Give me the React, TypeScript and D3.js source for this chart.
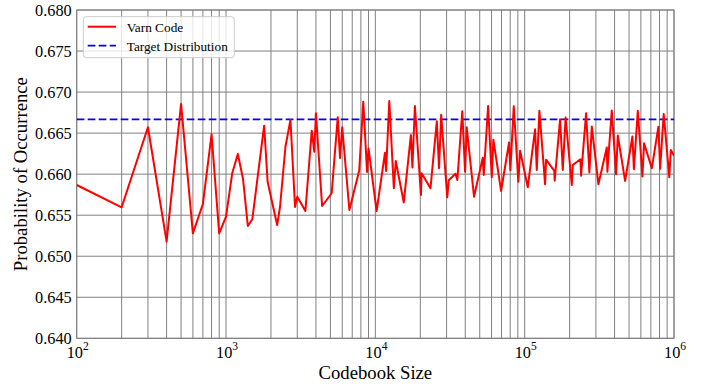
import React from "react";
import * as d3 from "d3";

// ---- data ----
const codebookSizes = [
  100, 200, 300, 400, 500, 600, 700, 800, 900, 1000,
  1100, 1200, 1300, 1400, 1500, 1800, 1900, 2200, 2300, 2500,
  2700, 2900, 3000, 3400, 3750, 3900, 4000, 4400, 5000, 5100,
  5600, 5800, 6000, 6700, 7800, 8300, 8800, 9000, 10200, 11600,
  11800, 12400, 13300, 13700, 15500, 17300, 17700, 18400, 20200, 20400,
  23400, 25800, 26700, 27600, 30300, 31000, 34400, 35400, 38200, 39900,
  40900, 45800, 52400, 53200, 56900, 60200, 61700, 69500, 78600, 80200,
  84500, 90700, 93200, 104900, 117400, 120500, 125500, 137000, 139100, 157900,
  158800, 172600, 180000, 187900, 206800, 210000, 236100, 238700, 257800, 271300,
  281500, 311700, 354700, 357900, 383100, 409500, 420400, 470500, 526600, 538900,
  572200, 614400, 630500, 710000, 786300, 807200, 853300, 930000, 952000, 1000000,
];

const varnProbabilities = [
  0.65868, 0.65596, 0.66571, 0.65177, 0.66855, 0.65279, 0.65636, 0.66486, 0.65279, 0.65482,
  0.66010, 0.66245, 0.65941, 0.65368, 0.65450, 0.66590, 0.65904, 0.65380, 0.65603, 0.66334,
  0.66660, 0.65600, 0.65725, 0.65551, 0.66529, 0.66274, 0.66741, 0.65612, 0.65746, 0.65770,
  0.66693, 0.66197, 0.66571, 0.65563, 0.66044, 0.66883, 0.66026, 0.66313, 0.65551, 0.66261,
  0.66038, 0.66891, 0.65828, 0.66160, 0.65655, 0.66477, 0.66081, 0.66830, 0.65746, 0.66010,
  0.65828, 0.66644, 0.66071, 0.66723, 0.65718, 0.65925, 0.66005, 0.65929, 0.66766, 0.66030,
  0.66571, 0.65725, 0.66200, 0.65990, 0.66830, 0.65962, 0.66420, 0.65795, 0.66386, 0.66047,
  0.66827, 0.65908, 0.66286, 0.65840, 0.66546, 0.66051, 0.66773, 0.65876, 0.66176, 0.66041,
  0.65920, 0.66668, 0.66051, 0.66690, 0.65868, 0.66111, 0.66181, 0.65981, 0.66741, 0.66020,
  0.66581, 0.65878, 0.66325, 0.66030, 0.66776, 0.65998, 0.66471, 0.65917, 0.66459, 0.66059,
  0.66773, 0.65971, 0.66376, 0.66071, 0.66578, 0.66065, 0.66733, 0.65962, 0.66294, 0.66227,
];

const targetProbability = 0.66667;

const yTickValues = [0.64, 0.645, 0.65, 0.655, 0.66, 0.665, 0.67, 0.675, 0.68];
const xMajorTicks = [100, 1000, 10000, 100000, 1000000];
const xTickExponents = ["2", "3", "4", "5", "6"];

const seriesLabels = ["Varn Code", "Target Distribution"];
const xAxisTitle = "Codebook Size";
const yAxisTitle = "Probability of Occurrence";

// ---- layout ----
const W = 710;
const H = 390;
const M = { left: 76.7, right: 674, top: 10, bottom: 338.3 };
const FONT = "'Liberation Serif', 'Times New Roman', serif";
const GRID = "#808080";

export default function App() {
  const x = d3.scaleLog().domain([100, 1000000]).range([M.left, M.right]);
  const y = d3.scaleLinear().domain([0.64, 0.68]).range([M.bottom, M.top]);

  const gridX = x.ticks();
  const points: [number, number][] = codebookSizes.map((c, i) => [c, varnProbabilities[i]]);
  const line = d3
    .line<[number, number]>()
    .x((d) => x(d[0]))
    .y((d) => y(d[1]));

  const lx0 = 87.7;
  const lx1 = 116;

  return (
    <svg
      width={W}
      height={H}
      style={{ position: "absolute", left: 0, top: 0, background: "#fff" }}
      fontFamily={FONT}
    >
      <defs>
        <clipPath id="plotclip">
          <rect x={M.left} y={M.top} width={M.right - M.left} height={M.bottom - M.top} />
        </clipPath>
      </defs>

      {/* grid */}
      {gridX.map((t, i) => (
        <line key={"gx" + i} x1={x(t)} x2={x(t)} y1={M.top} y2={M.bottom} stroke={GRID} strokeWidth={1} />
      ))}
      {yTickValues.map((t, i) => (
        <line key={"gy" + i} x1={M.left} x2={M.right} y1={y(t)} y2={y(t)} stroke={GRID} strokeWidth={1} />
      ))}

      {/* frame */}
      <rect
        x={M.left}
        y={M.top}
        width={M.right - M.left}
        height={M.bottom - M.top}
        fill="none"
        stroke={GRID}
        strokeWidth={1}
      />

      {/* series */}
      <g clipPath="url(#plotclip)">
        <line
          x1={M.left}
          x2={M.right}
          y1={y(targetProbability)}
          y2={y(targetProbability)}
          stroke="#0000ff"
          strokeWidth={1.8}
          strokeDasharray="7.7,3.3"
        />
        <path d={line(points) || ""} fill="none" stroke="#ff0000" strokeWidth={2} strokeLinejoin="round" />
      </g>

      {/* y tick labels */}
      {yTickValues.map((t, i) => (
        <text
          key={"yl" + i}
          x={M.left - 5}
          y={y(t)}
          dy="0.36em"
          textAnchor="end"
          fontSize={16.3}
          fill="#000"
        >
          {d3.format(".3f")(t)}
        </text>
      ))}

      {/* x tick labels */}
      {xMajorTicks.map((t, i) => (
        <text key={"xl" + i} x={x(t) - 10} y={358} fontSize={16.3} fill="#000">
          10
          <tspan fontSize={11.5} dy={-8}>
            {xTickExponents[i]}
          </tspan>
        </text>
      ))}

      {/* axis titles */}
      <text x={(M.left + M.right) / 2} y={379} textAnchor="middle" fontSize={18.7} fill="#000">
        {xAxisTitle}
      </text>
      <text
        transform={`translate(27, ${(M.top + M.bottom) / 2}) rotate(-90)`}
        textAnchor="middle"
        fontSize={18.7}
        fill="#000"
      >
        {yAxisTitle}
      </text>

      {/* legend */}
      <rect
        x={83.3}
        y={16.7}
        width={151}
        height={41}
        rx={3}
        fill="#fff"
        fillOpacity={0.8}
        stroke="#cccccc"
        strokeWidth={1}
      />
      <line x1={lx0} x2={lx1} y1={26.7} y2={26.7} stroke="#ff0000" strokeWidth={2} />
      <text x={126.7} y={31.5} fontSize={13.3} fill="#000">
        {seriesLabels[0]}
      </text>
      <line
        x1={lx0}
        x2={lx1}
        y1={45.7}
        y2={45.7}
        stroke="#0000ff"
        strokeWidth={1.8}
        strokeDasharray="7.7,3.3"
      />
      <text x={126.7} y={50.5} fontSize={13.3} fill="#000">
        {seriesLabels[1]}
      </text>
    </svg>
  );
}
